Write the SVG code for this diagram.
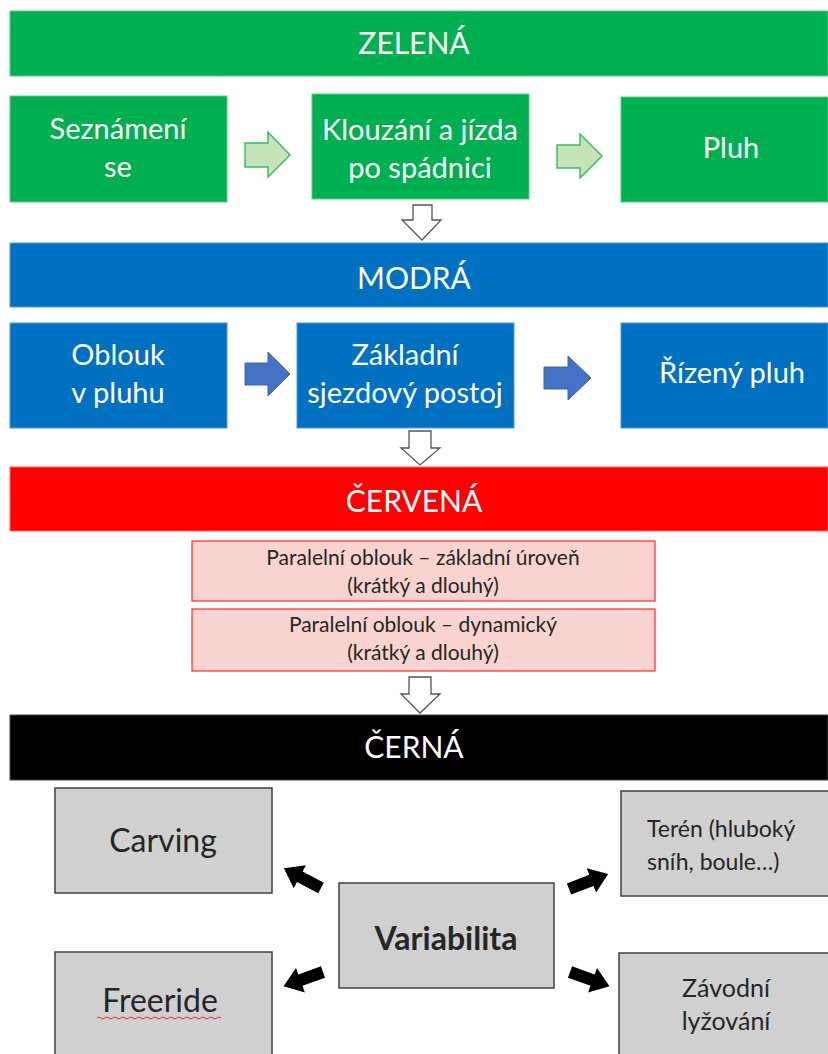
<svg xmlns="http://www.w3.org/2000/svg" width="828" height="1054" viewBox="0 0 828 1054">
<defs>
<style>
.t{font-family:Lato,"Open Sans","Liberation Sans",sans-serif;text-anchor:middle}
.w{fill:#ffffff;font-size:29px}
.ban{fill:#ffffff;font-size:30px}
.pk{fill:#262626;font-size:21px}
.g{fill:#262626}
.gbox{fill:#00b050;stroke:#5cc98a;stroke-width:1}
.bbox{fill:#0070c0;stroke:#4f9ad6;stroke-width:1}
.pbox{fill:#f8d3d0;stroke:#ff2a2a;stroke-width:1.2}
.grbox{fill:#d0d0d0;stroke:#404040;stroke-width:1.5}
.down{fill:#ffffff;stroke:#555555;stroke-width:1.3;stroke-linejoin:miter}
.garr{fill:#c7e3b8;stroke:#3dbb6a;stroke-width:1.5}
.barr{fill:#4472c4;stroke:#3a64ad;stroke-width:1}
.karr{fill:#000000}
</style>
<path id="blk" d="M0,-6 L24,-6 L24,-13 L42,0 L24,13 L24,6 L0,6 Z"/>
</defs>

<!-- Banners -->
<g id="banner-zelena">
<rect x="10" y="11" width="818" height="65" fill="#00b050" stroke="#5cc98a"/>
<text class="t ban" x="414" y="54">ZELENÁ</text>
</g>
<g id="banner-modra">
<rect x="10" y="243" width="818" height="64" fill="#0070c0" stroke="#4f9ad6"/>
<text class="t ban" x="414" y="289">MODRÁ</text>
</g>
<g id="banner-cervena">
<rect x="10" y="467" width="818" height="64" fill="#ff0000" stroke="#ff6666"/>
<text class="t ban" x="414" y="512">ČERVENÁ</text>
</g>
<g id="banner-cerna">
<rect x="10" y="715" width="818" height="65" fill="#000000" stroke="#444444"/>
<text class="t ban" x="414" y="758">ČERNÁ</text>
</g>

<!-- Green nodes -->
<g id="seznameni">
<rect class="gbox" x="10" y="96" width="217" height="106"/>
<text class="t w" x="118" y="139">Seznámení</text>
<text class="t w" x="118" y="177">se</text>
</g>
<g id="klouzani">
<rect class="gbox" x="312" y="94" width="217" height="105"/>
<text class="t w" x="420" y="140">Klouzání a jízda</text>
<text class="t w" x="420" y="178">po spádnici</text>
</g>
<g id="pluh">
<rect class="gbox" x="621" y="97" width="207" height="105"/>
<text class="t w" x="731" y="158">Pluh</text>
</g>

<!-- Blue nodes -->
<g id="oblouk-v-pluhu">
<rect class="bbox" x="10" y="323" width="217" height="105"/>
<text class="t w" x="118" y="365">Oblouk</text>
<text class="t w" x="118" y="403">v pluhu</text>
</g>
<g id="zakladni-postoj">
<rect class="bbox" x="297" y="323" width="217" height="105"/>
<text class="t w" x="405" y="365">Základní</text>
<text class="t w" x="405" y="403">sjezdový postoj</text>
</g>
<g id="rizeny-pluh">
<rect class="bbox" x="621" y="323" width="207" height="105"/>
<text class="t w" x="732" y="383">Řízený pluh</text>
</g>

<!-- Red nodes -->
<g id="paralelni-zakladni">
<rect class="pbox" x="192" y="541" width="463" height="60"/>
<text class="t pk" x="423" y="565">Paralelní oblouk – základní úroveň</text>
<text class="t pk" x="423" y="593">(krátký a dlouhý)</text>
</g>
<g id="paralelni-dynamicky">
<rect class="pbox" x="192" y="609" width="463" height="62"/>
<text class="t pk" x="423" y="632">Paralelní oblouk – dynamický</text>
<text class="t pk" x="423" y="660">(krátký a dlouhý)</text>
</g>

<!-- Black nodes -->
<g id="carving">
<rect class="grbox" x="55" y="788" width="217" height="105"/>
<text class="t g" x="163" y="852" font-size="32">Carving</text>
</g>
<g id="freeride">
<rect class="grbox" x="55" y="952" width="217" height="110"/>
<text class="t g" x="160" y="1012" font-size="32">Freeride</text>
<path d="M97,1018 q2,-2 4,0 t4,0 t4,0 t4,0 t4,0 t4,0 t4,0 t4,0 t4,0 t4,0 t4,0 t4,0 t4,0 t4,0 t4,0 t4,0 t4,0 t4,0 t4,0 t4,0 t4,0 t4,0 t4,0 t4,0 t4,0 t4,0 t4,0 t4,0 t4,0 t4,0 t4,0" fill="none" stroke="#e03030" stroke-width="1"/>
</g>
<g id="variabilita">
<rect class="grbox" x="339" y="883" width="215" height="105"/>
<text class="t g" x="446" y="950" font-size="32" font-weight="bold">Variabilita</text>
</g>
<g id="teren">
<rect class="grbox" x="621" y="791" width="209" height="105"/>
<text class="g" x="647" y="837" font-size="23" font-family="Lato,'Open Sans','Liberation Sans',sans-serif">Terén (hluboký</text>
<text class="g" x="647" y="870" font-size="23" font-family="Lato,'Open Sans','Liberation Sans',sans-serif">sníh, boule…)</text>
</g>
<g id="zavodni">
<rect class="grbox" x="619" y="953" width="211" height="110"/>
<text class="t g" x="726" y="997" font-size="25">Závodní</text>
<text class="t g" x="726" y="1030" font-size="25">lyžování</text>
</g>

<!-- Connectors -->
<g id="connectors">
<path class="garr" d="M245,143 L268,143 L268,132 L290,155 L268,177 L268,167 L245,167 Z"/>
<path class="garr" d="M557,145 L580,145 L580,134 L602,156 L580,178 L580,168 L557,168 Z"/>
<path class="barr" d="M245,363 L268,363 L268,352 L290,374 L268,396 L268,385 L245,385 Z"/>
<path class="barr" d="M544,367 L568,367 L568,356 L591,378 L568,400 L568,389 L544,389 Z"/>
<path class="down" d="M413,205 L432,205 L432,220 L441,220 L422,240 L402,220 L413,220 Z"/>
<path class="down" d="M409,431 L431,431 L431,448 L440,448 L420,465 L401,448 L409,448 Z"/>
<path class="down" d="M409,677 L431,677 L431,694 L440,694 L420,713 L401,694 L409,694 Z"/>
<use href="#blk" class="karr" transform="translate(321,888) rotate(208)"/>
<use href="#blk" class="karr" transform="translate(323,972) rotate(160)"/>
<use href="#blk" class="karr" transform="translate(569,889) rotate(-21)"/>
<use href="#blk" class="karr" transform="translate(570,972) rotate(20)"/>
</g>
</svg>
